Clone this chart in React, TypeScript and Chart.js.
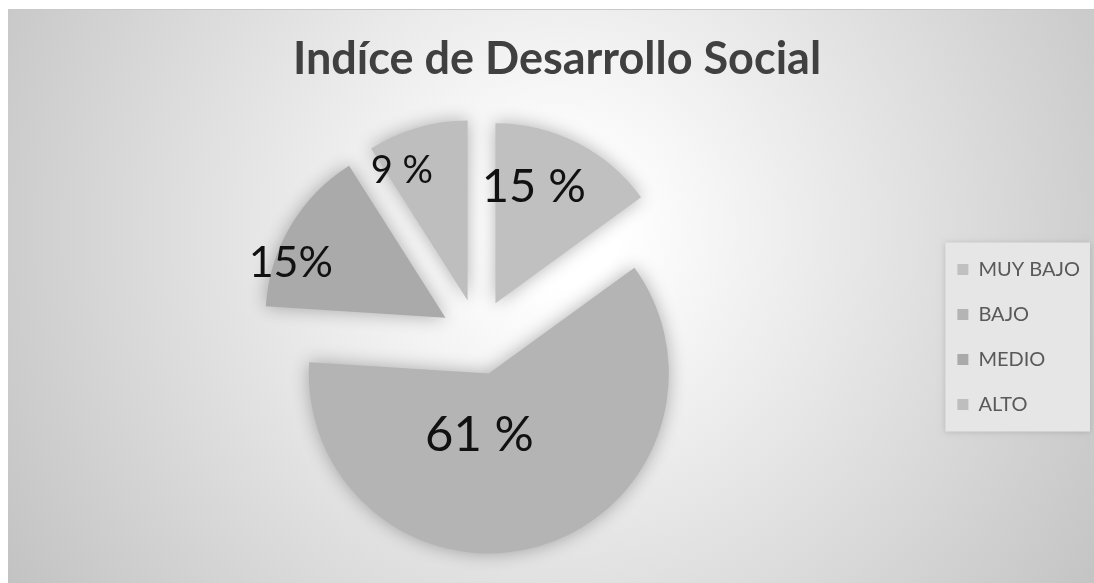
import React, { useEffect, useRef } from "react";
import { Chart, registerables } from "chart.js";

Chart.register(...registerables);

// ---- data ----
const categories = ["MUY BAJO", "BAJO", "MEDIO", "ALTO"];
const shares = [15, 61, 15, 9];
const valueLabels = ["15 %", "61 %", "15%", "9 %"];
const chartTitle = "Indíce de Desarrollo Social";

// ---- styles ----
const sliceColors = ["#c0c0c0", "#b4b4b4", "#aaaaaa", "#bebebe"];
const labelStyle = [
  { size: 47, frac: 0.69, dAngle: -9 },
  { size: 49, frac: 0.34, dAngle: 25 },
  { size: 43, frac: 0.915, dAngle: -10.5 },
  { size: 38, frac: 0.815, dAngle: -10.4 },
];
const EXPLODE = 38;
const W = 1086;
const H = 575;
const FONT = "Lato, 'Open Sans', sans-serif";

const backgroundPlugin = {
  id: "bgPlugin",
  beforeDraw(chart: any) {
    const ctx = chart.ctx as CanvasRenderingContext2D;
    ctx.save();
    ctx.fillStyle = "#ffffff";
    ctx.fillRect(0, 0, W, H);
    const g = ctx.createRadialGradient(552, 222, 0, 552, 222, 720);
    g.addColorStop(0, "#ffffff");
    g.addColorStop(0.08, "#ffffff");
    g.addColorStop(1, "#bcbcbc");
    ctx.fillStyle = g;
    ctx.fillRect(0, 1, W, H - 1);
    ctx.fillStyle = "#c9c9c9";
    ctx.fillRect(0, 1, W, 1);
    const lg = chart.legend;
    if (lg && lg.legendHitBoxes && lg.legendHitBoxes.length) {
      const hb = lg.legendHitBoxes;
      const top = hb[0].top - 17;
      const last = hb[hb.length - 1];
      const bottom = last.top + last.height + 17;
      const left = hb[0].left - 12;
      ctx.shadowColor = "rgba(0,0,0,0.15)";
      ctx.shadowBlur = 6;
      ctx.fillStyle = "#e6e6e6";
      ctx.fillRect(left, top, 1082 - left, bottom - top);
    }
    ctx.restore();
  },
};

const explodePlugin = {
  id: "explodePlugin",
  beforeDatasetDraw(chart: any, args: any) {
    const ctx = chart.ctx as CanvasRenderingContext2D;
    args.meta.data.forEach((arc: any) => {
      const mid = (arc.startAngle + arc.endAngle) / 2;
      ctx.save();
      ctx.translate(Math.cos(mid) * EXPLODE, Math.sin(mid) * EXPLODE);
      ctx.shadowColor = "rgba(0,0,0,0.3)";
      ctx.shadowBlur = 18;
      arc.draw(ctx);
      ctx.restore();
    });
    return false;
  },
  afterDatasetsDraw(chart: any) {
    const ctx = chart.ctx as CanvasRenderingContext2D;
    const meta = chart.getDatasetMeta(0);
    meta.data.forEach((arc: any, i: number) => {
      const mid = (arc.startAngle + arc.endAngle) / 2;
      const ax = arc.x + Math.cos(mid) * EXPLODE;
      const ay = arc.y + Math.sin(mid) * EXPLODE;
      const st = labelStyle[i];
      const a = mid + (st.dAngle * Math.PI) / 180;
      const r = arc.outerRadius * st.frac;
      const cx = ax + Math.cos(a) * r;
      const cy = ay + Math.sin(a) * r;
      ctx.save();
      ctx.font = `${st.size}px ${FONT}`;
      ctx.textAlign = "center";
      ctx.textBaseline = "alphabetic";
      const m = ctx.measureText(valueLabels[i]);
      const y = cy + (m.actualBoundingBoxAscent - m.actualBoundingBoxDescent) / 2;
      ctx.fillStyle = "#111111";
      ctx.fillText(valueLabels[i], cx, y);
      ctx.restore();
    });
  },
};

export default function App() {
  const ref = useRef<HTMLCanvasElement | null>(null);
  useEffect(() => {
    let chart: Chart | null = null;
    let cancelled = false;
    const make = () => {
      if (cancelled || !ref.current) return;
      chart = new Chart(ref.current, {
        type: "pie",
        data: {
          labels: categories,
          datasets: [
            {
              data: shares,
              backgroundColor: sliceColors,
              borderWidth: 0,
            },
          ],
        },
        options: {
          responsive: false,
          animation: false,
          devicePixelRatio: 1,
          events: [],
          layout: { padding: { left: 16, right: 4, top: 0, bottom: 66 } },
          plugins: {
            title: {
              display: true,
              text: chartTitle,
              color: "#404040",
              font: { family: FONT, size: 45, weight: "bold" },
              padding: { top: 24, bottom: 71 },
            },
            legend: {
              display: true,
              position: "right",
              align: "center",
              fullSize: false,
              labels: {
                boxWidth: 11,
                boxHeight: 11,
                padding: 25,
                color: "#595959",
                font: { family: FONT, size: 20 },
              },
            },
            tooltip: { enabled: false },
          },
        } as any,
        plugins: [backgroundPlugin, explodePlugin],
      });
    };
    const fonts = (document as any).fonts;
    if (fonts && fonts.load) {
      Promise.all([fonts.load(`bold 45px Lato`), fonts.load(`20px Lato`)])
        .catch(() => {})
        .then(make);
    } else {
      make();
    }
    return () => {
      cancelled = true;
      if (chart) chart.destroy();
    };
  }, []);
  return (
    <div style={{ position: "absolute", left: 8, top: 8, width: W, height: H }}>
      <canvas ref={ref} width={W} height={H} style={{ display: "block" }} />
    </div>
  );
}
